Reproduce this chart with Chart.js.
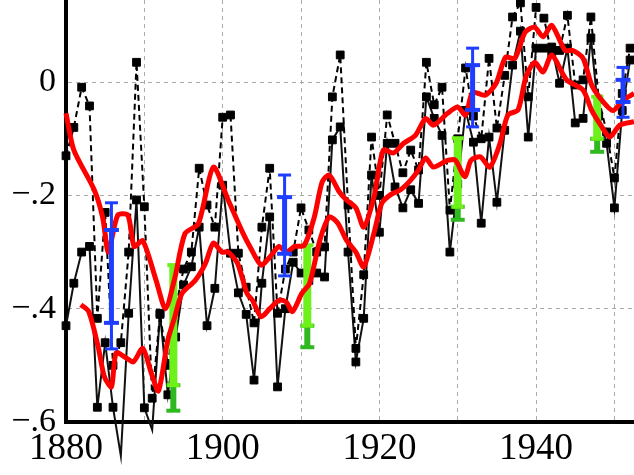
<!DOCTYPE html>
<html>
<head>
<meta charset="utf-8">
<script src="https://cdn.jsdelivr.net/npm/chart.js@4"></script>
<style>
  html, body { margin: 0; padding: 0; background: #fff; }
</style>
</head>
<body>
<canvas id="chart" width="634" height="475"></canvas>
<script>
// ---------- data ----------
const years = [1880,1881,1882,1883,1884,1885,1886,1887,1888,1889,
  1890,1891,1892,1893,1894,1895,1896,1897,1898,1899,
  1900,1901,1902,1903,1904,1905,1906,1907,1908,1909,
  1910,1911,1912,1913,1914,1915,1916,1917,1918,1919,
  1920,1921,1922,1923,1924,1925,1926,1927,1928,1929,
  1930,1931,1932,1933,1934,1935,1936,1937,1938,1939,
  1940,1941,1942,1943,1944,1945,1946,1947,1948,1949,
  1950,1951,1952];

const solidSeries = [-0.43,-0.355,-0.30,-0.29,-0.574,-0.46,-0.574,-0.66,-0.408,-0.208,
  -0.575,-0.614,-0.408,-0.552,-0.45,-0.358,-0.326,-0.256,-0.43,-0.364,
  -0.182,-0.302,-0.372,-0.41,-0.526,-0.355,-0.238,-0.538,-0.40,-0.318,
  -0.337,-0.35,-0.337,-0.344,-0.102,-0.079,-0.30,-0.494,-0.417,-0.164,
  -0.265,-0.108,-0.185,-0.222,-0.19,-0.214,-0.026,-0.064,-0.094,-0.30,
  -0.18,-0.05,-0.106,-0.249,-0.097,-0.212,-0.085,0.03,0.09,-0.097,
  0.06,0.06,0.062,-0.002,0.06,-0.072,-0.064,0.078,-0.06,-0.108,
  -0.222,-0.05,0.039];

const dashedSeries = [-0.13,-0.08,-0.009,-0.042,-0.417,-0.23,-0.50,-0.46,-0.30,0.035,
  -0.22,-0.558,-0.41,-0.50,-0.40,-0.33,-0.30,-0.152,-0.217,-0.256,
  -0.062,-0.058,-0.302,-0.362,-0.425,-0.256,-0.152,-0.408,-0.33,-0.30,
  -0.222,-0.261,-0.30,-0.291,-0.026,0.048,-0.217,-0.47,-0.34,-0.097,
  -0.20,-0.058,-0.108,-0.16,-0.12,-0.155,0.035,-0.04,-0.009,-0.226,
  -0.10,0.025,-0.06,-0.10,0.042,-0.081,0.012,0.115,0.14,-0.026,
  0.132,0.113,0.05,0.056,0.118,-0.005,0.004,0.115,-0.03,-0.088,
  -0.169,-0.02,0.06];

const upperRedYears = [1880.0,1881.0,1883.6,1884.7,1885.4,1886.6,1887.9,1888.7,1889.8,1891.5,
  1892.7,1893.9,1895.2,1896.9,1898.8,1900.7,1902.6,1903.5,1904.9,1906.0,
  1907.2,1908.1,1909.2,1910.4,1911.7,1912.7,1913.6,1914.9,1915.8,1917.0,
  1918.0,1919.3,1920.5,1921.8,1923.1,1924.6,1925.9,1926.9,1928.7,1930.0,
  1931.0,1931.9,1933.5,1934.9,1936.1,1937.3,1938.6,1939.8,1940.9,1942.0,
  1943.7,1944.7,1946.0,1947.1,1948.4,1949.8,1951.1,1952.5];
const upperRedValues = [-0.055,-0.12,-0.19,-0.24,-0.30,-0.235,-0.235,-0.29,-0.28,-0.35,
  -0.40,-0.345,-0.267,-0.25,-0.15,-0.208,-0.267,-0.291,-0.323,-0.309,
  -0.29,-0.30,-0.29,-0.288,-0.238,-0.176,-0.164,-0.194,-0.208,-0.222,
  -0.256,-0.203,-0.12,-0.125,-0.108,-0.094,-0.064,-0.076,-0.055,-0.044,
  -0.058,-0.018,-0.023,-0.002,0.044,0.042,0.088,0.097,0.08,0.10,
  0.056,0.056,0.042,-0.005,-0.032,-0.05,-0.032,-0.02];

const lowerRedYears = [1881.9,1882.9,1884.1,1884.9,1885.8,1886.4,1887.7,1888.6,1889.8,1890.9,
  1891.8,1893.0,1893.9,1894.8,1896.5,1897.8,1898.8,1899.9,1900.7,1901.9,
  1903.1,1903.8,1904.9,1906.0,1907.2,1908.1,1908.9,1910.1,1911.1,1912.4,
  1913.6,1914.7,1915.8,1917.0,1918.0,1919.3,1920.3,1921.4,1922.7,1924.0,
  1925.0,1925.9,1926.9,1928.7,1929.7,1930.9,1931.7,1932.9,1934.1,1935.4,
  1936.4,1937.7,1938.7,1939.8,1940.9,1942.0,1943.9,1946.0,1947.1,1948.4,
  1949.4,1950.7,1952.5];
const lowerRedValues = [-0.393,-0.405,-0.467,-0.52,-0.538,-0.478,-0.487,-0.494,-0.47,-0.514,
  -0.545,-0.455,-0.414,-0.373,-0.35,-0.32,-0.284,-0.30,-0.30,-0.32,
  -0.373,-0.385,-0.414,-0.40,-0.385,-0.388,-0.405,-0.373,-0.355,-0.279,
  -0.238,-0.249,-0.279,-0.30,-0.326,-0.267,-0.214,-0.199,-0.19,-0.173,
  -0.155,-0.134,-0.15,-0.138,-0.138,-0.167,-0.138,-0.132,-0.15,-0.108,
  -0.058,-0.049,0.009,0.035,0.018,0.048,0.004,-0.014,-0.05,-0.079,
  -0.097,-0.076,-0.07];

// blue error bars: outer (thin) and inner (thick) ranges
const blueYears   = [1885.8, 1907.9, 1931.9, 1951.1];
const blueOuterHi = [-0.213, -0.164, 0.060, 0.026];
const blueOuterLo = [-0.471, -0.342, -0.079, -0.062];
const blueInnerHi = [-0.261, -0.203, 0.030, 0.004];
const blueInnerLo = [-0.425, -0.303, -0.049, -0.035];

// green error bars: light upper part, dark lower part
const greenYears   = [1893.7, 1910.8, 1930.0, 1947.8];
const greenLightHi = [-0.323, -0.288, -0.099, -0.026];
const greenLightLo = [-0.535, -0.430, -0.220, -0.100];
const greenDarkLo  = [-0.580, -0.468, -0.243, -0.123];

const xTicks  = [1880, 1890, 1900, 1910, 1920, 1930, 1940, 1950];
const xLabels = ['1880', '', '1900', '', '1920', '', '1940', ''];
const yTicks  = [-0.6, -0.4, -0.2, 0];
const yLabels = ['\u2212.6', '\u2212.4', '\u2212.2', '0'];

// ---------- helpers ----------
function pairs(xs, ys){ return xs.map((x, i) => ({ x: x, y: ys[i] })); }
function bars(xs, hi, lo){
  const out = [];
  xs.forEach((x, i) => { out.push({ x: x, y: hi[i] }, { x: x, y: lo[i] }, { x: x, y: null }); });
  return out;
}
function barSet(data, color, width, cap, capWidth, order){
  return {
    data: data, borderColor: color, backgroundColor: color, borderWidth: width,
    pointStyle: 'line', pointRadius: cap, pointBorderWidth: capWidth, pointBorderColor: color,
    pointHoverRadius: cap, spanGaps: false, tension: 0, clip: false, order: order
  };
}

const BLUE = '#1f3dff', LIME = '#6ef01a', DKGREEN = '#2fb81f', RED = '#ff0000';

const datasets = [
  barSet(bars(blueYears, blueOuterHi, blueOuterLo), BLUE, 3, 6.5, 3, 0),
  barSet(bars(blueYears, blueInnerHi, blueInnerLo), BLUE, 5, 7.5, 4, 0),
  { data: pairs(upperRedYears, upperRedValues), borderColor: RED, borderWidth: 5,
    pointRadius: 0, tension: 0.25, clip: false, order: 1 },
  { data: pairs(lowerRedYears, lowerRedValues), borderColor: RED, borderWidth: 5,
    pointRadius: 0, tension: 0.25, clip: false, order: 1 },
  barSet(bars(greenYears, greenLightHi, greenLightLo), LIME, 8, 6, 4, 2),
  barSet(bars(greenYears, greenLightLo, greenDarkLo), DKGREEN, 6, 7, 4, 2),
  { data: pairs(years, dashedSeries), borderColor: '#000', borderWidth: 2, borderDash: [6, 4],
    pointStyle: 'rect', pointRadius: 5.5, pointBackgroundColor: '#000', pointBorderColor: '#000',
    pointBorderWidth: 1, tension: 0, clip: false, order: 3 },
  { data: pairs(years, solidSeries), borderColor: '#111', borderWidth: 2,
    pointStyle: 'rect', pointRadius: 5.5, pointBackgroundColor: '#000', pointBorderColor: '#000',
    pointBorderWidth: 1, tension: 0, clip: false, order: 3 }
];

// ---------- chart ----------
const serif = 'Liberation Serif, "DejaVu Serif", serif';
new Chart(document.getElementById('chart'), {
  type: 'line',
  data: { datasets: datasets },
  options: {
    responsive: false, animation: false, devicePixelRatio: 1,
    layout: { padding: 0, autoPadding: false },
    plugins: { legend: { display: false }, tooltip: { enabled: false } },
    scales: {
      x: {
        type: 'linear', min: 1880, max: 1952.5,
        afterBuildTicks: s => { s.ticks = xTicks.map(v => ({ value: v })); },
        afterFit: s => { s.height = 53; s.paddingLeft = 0; s.paddingRight = 0; },
        ticks: { autoSkip: false, maxRotation: 0, padding: 5, color: '#000',
                 font: { family: serif, size: 37 },
                 callback: v => xLabels[xTicks.indexOf(v)] },
        grid: { color: '#aaaaaa', lineWidth: 1, drawTicks: false },
        border: { display: true, color: '#000', width: 4, dash: [4, 4] }
      },
      y: {
        type: 'linear', min: -0.6, max: 0.145,
        afterBuildTicks: s => { s.ticks = yTicks.map(v => ({ value: v })); },
        afterFit: s => { s.width = 66; s.paddingTop = 0; s.paddingBottom = 0; },
        ticks: { padding: 10, color: '#000', font: { family: serif, size: 34 },
                 callback: v => yLabels[yTicks.indexOf(v)] },
        grid: { color: '#aaaaaa', lineWidth: 1, drawTicks: false },
        border: { display: true, color: '#000', width: 4, dash: [4, 4] }
      }
    }
  }
});
</script>
</body>
</html>
